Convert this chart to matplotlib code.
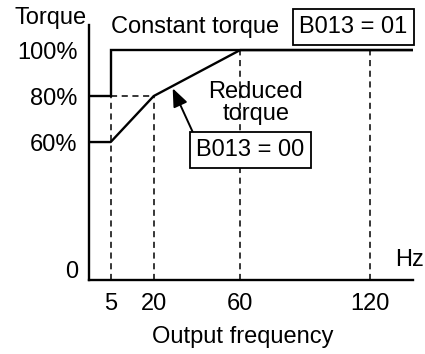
import numpy as np
import matplotlib.pyplot as plt
from matplotlib.scale import FuncScale

plt.rcParams['font.family'] = ['Liberation Sans', 'DejaVu Sans']

# Characteristic curves (frequency in Hz, torque in %)
const_freq = [0, 5, 5, 140]
const_torque = [80, 80, 100, 100]
reduced_freq = [0, 5, 20, 60, 140]
reduced_torque = [60, 60, 80, 100, 100]

# Guide lines
guide_freq = [5, 20, 60, 120]
guide_top = [80, 80, 100, 100]
tick_freq = [5, 20, 60, 120]
tick_torque = [60, 80, 100]
tick_torque_labels = ['60%', '80%', '100%']

W, H = 425, 354
fig = plt.figure(figsize=(W / 100, H / 100), dpi=100)
ax = fig.add_axes([88.7 / W, 1 - 280 / H, (413 - 88.7) / W, (280 - 25) / H])

# the low-frequency part of the axis is stretched
knots_f = [0, 5, 20, 140]
knots_p = [0, 22, 65, 324.3]
ax.set_xscale(FuncScale(ax.xaxis, (lambda x: np.interp(x, knots_f, knots_p),
                                   lambda p: np.interp(p, knots_p, knots_f))))
ax.set_xlim(0, 140)
ax.set_ylim(0, 110.9)

ax.plot(const_freq, const_torque, color='black', lw=1.7, solid_joinstyle='miter')
ax.plot(reduced_freq, reduced_torque, color='black', lw=1.7)
ax.plot([5, 20], [80, 80], color='black', lw=1.1, ls=(0, (4, 3)))
for f, top in zip(guide_freq, guide_top):
    ax.plot([f, f], [0, top], color='black', lw=1.1, ls=(0, (4, 3)))

for side in ['top', 'right']:
    ax.spines[side].set_visible(False)
for side in ['left', 'bottom']:
    ax.spines[side].set_linewidth(1.7)

fs = 17
ax.set_xticks(tick_freq)
ax.set_xticklabels([str(v) for v in tick_freq], fontsize=fs)
ax.set_yticks(tick_torque)
ax.set_yticklabels(tick_torque_labels, fontsize=fs)
ax.tick_params(axis='x', length=0, pad=9)
ax.tick_params(axis='y', length=0, pad=8)


def px(x, y):
    return x / W, 1 - y / H


fig.text(*px(14, 24), 'Torque', fontsize=fs, ha='left', va='baseline')
fig.text(*px(78, 272), '0', fontsize=fs, ha='right', va='center')
fig.text(*px(424, 260), 'Hz', fontsize=fs, ha='right', va='center')
fig.text(*px(243, 337), 'Output frequency', fontsize=fs, ha='center', va='center')
fig.text(*px(111, 27), 'Constant torque', fontsize=fs, ha='left', va='center')
fig.text(*px(256, 103), 'Reduced\ntorque', fontsize=fs, ha='center', va='center',
         linespacing=1.02)

box = dict(boxstyle='square,pad=0.28', facecolor='white', edgecolor='black', lw=1.3)
fig.text(*px(353.5, 27), 'B013 = 01', fontsize=fs, ha='center', va='center', bbox=box)
fig.text(*px(250.5, 150), 'B013 = 00', fontsize=fs, ha='center', va='center', bbox=box)

# pointer to the reduced torque curve
ax.annotate('', xy=px(172.7, 88.3), xycoords='figure fraction',
            xytext=px(193.3, 133.3), textcoords='figure fraction',
            arrowprops=dict(arrowstyle='-|>,head_length=1.1,head_width=0.45',
                            color='black', lw=1.4, shrinkA=0, shrinkB=0))

fig.savefig('out.png', dpi=100, facecolor='white')
